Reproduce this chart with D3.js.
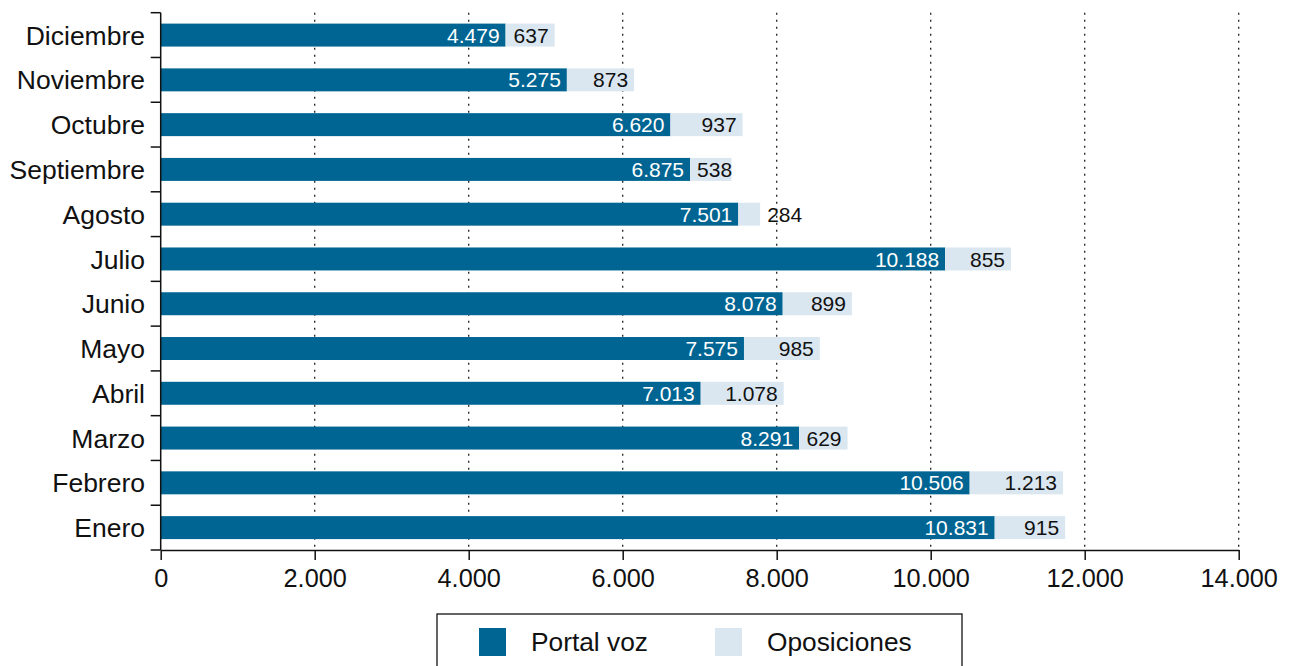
<!DOCTYPE html>
<html><head><meta charset="utf-8">
<script src="https://cdn.jsdelivr.net/npm/d3@7"></script>
<style>
html,body{margin:0;padding:0;background:#fff;}
svg{display:block;font-family:"Liberation Sans",Arial,Helvetica,sans-serif;}
</style></head>
<body>
<svg id="chart" width="1291" height="666"></svg>
<script>
const months = ["Enero","Febrero","Marzo","Abril","Mayo","Junio","Julio","Agosto","Septiembre","Octubre","Noviembre","Diciembre"];
const portalVoz = [10831,10506,8291,7013,7575,8078,10188,7501,6875,6620,5275,4479];
const oposiciones = [915,1213,629,1078,985,899,855,284,538,937,873,637];
const xTicks = [0,2000,4000,6000,8000,10000,12000,14000];
const seriesNames = ["Portal voz","Oposiciones"];
const colors = ["#006592","#dbe7f0"];

(function(){
const loc = d3.formatLocale({decimal:",", thousands:".", grouping:[3], currency:["","€"]});
const fmt = loc.format(",d");

const svg = d3.select("#chart");
const pLeft = 160.7, pRight = 1238.7, pTop = 12.7, pBottom = 550;

const x = d3.scaleLinear().domain([0,14000]).range([pLeft,pRight]);
const yOrder = months.slice().reverse(); // Diciembre at top
const y = d3.scaleBand().domain(yOrder).range([pTop,pBottom]).paddingInner(0.487).paddingOuter(0.2435);
const yBound = d3.scaleBand().domain(yOrder).range([pTop,pBottom]);

// gridlines
svg.append("g").selectAll("line").data(xTicks.filter(d=>d>0)).join("line")
  .attr("x1",d=>x(d)).attr("x2",d=>x(d)).attr("y1",pTop).attr("y2",pBottom)
  .attr("stroke","#222").attr("stroke-width",1.3).attr("stroke-dasharray","2,5");

const data = months.map((m,i)=>({m, a:portalVoz[i], b:oposiciones[i]}));

// bars
const g = svg.append("g");
g.selectAll("rect.a").data(data).join("rect").attr("class","a")
  .attr("x",x(0)).attr("y",d=>y(d.m)).attr("width",d=>x(d.a)-x(0)).attr("height",y.bandwidth())
  .attr("fill",colors[0]);
g.selectAll("rect.b").data(data).join("rect").attr("class","b")
  .attr("x",d=>x(d.a)).attr("y",d=>y(d.m)).attr("width",d=>x(d.a+d.b)-x(d.a)).attr("height",y.bandwidth())
  .attr("fill",colors[1]);

// labels
g.selectAll("text.a").data(data).join("text").attr("class","a")
  .attr("x",d=>x(d.a)-6).attr("y",d=>y(d.m)+y.bandwidth()/2).attr("dy","0.36em")
  .attr("text-anchor","end").attr("font-size",21).attr("fill","#fff").text(d=>fmt(d.a));
g.selectAll("text.b").data(data).join("text").attr("class","b")
  .attr("y",d=>y(d.m)+y.bandwidth()/2).attr("dy","0.36em")
  .attr("font-size",21).attr("fill","#111").attr("text-anchor","start").text(d=>fmt(d.b))
  .each(function(d){
    const w = this.getComputedTextLength();
    const end = x(d.a+d.b), start = x(d.a);
    let lx = Math.max(end-6-w, start+7);
    if (lx + w > end + 2) lx = end + 7;
    d3.select(this).attr("x", lx);
  });

// y axis
const yb = yOrder.map(m=>yBound(m)).concat([pBottom]);
const ya = svg.append("g");
ya.append("line").attr("x1",pLeft).attr("x2",pLeft).attr("y1",pTop).attr("y2",pBottom).attr("stroke","#111").attr("stroke-width",1.5);
ya.selectAll("line.t").data(yb).join("line").attr("class","t")
  .attr("x1",pLeft-10).attr("x2",pLeft).attr("y1",d=>d).attr("y2",d=>d).attr("stroke","#111").attr("stroke-width",1.5);
ya.selectAll("text").data(yOrder).join("text")
  .attr("x",145).attr("y",d=>y(d)+y.bandwidth()/2).attr("dy","0.36em")
  .attr("text-anchor","end").attr("font-size",26.5).attr("fill","#111").text(d=>d);

// x axis
const xa = svg.append("g").attr("transform",`translate(0,${pBottom})`);
xa.call(d3.axisBottom(x).tickValues(xTicks).tickFormat(fmt).tickSize(10).tickPadding(9).tickSizeOuter(0));
xa.select(".domain").attr("stroke","#111").attr("stroke-width",1.5);
xa.selectAll(".tick line").attr("stroke","#111").attr("stroke-width",1.5);
xa.selectAll(".tick text").attr("font-size",25.3).attr("fill","#111").attr("font-family","'Liberation Sans',Arial,Helvetica,sans-serif");

// legend
const lg = svg.append("g");
lg.append("rect").attr("x",437).attr("y",614).attr("width",525).attr("height",80)
  .attr("fill","#fff").attr("stroke","#111").attr("stroke-width",1.3);
const lx = [479,715];
seriesNames.forEach((s,i)=>{
  lg.append("rect").attr("x",lx[i]).attr("y",628).attr("width",27).attr("height",28).attr("fill",colors[i]);
  lg.append("text").attr("x",lx[i]+52).attr("y",642).attr("dy","0.36em").attr("font-size",26.3).attr("fill","#111").text(s);
});
})();
</script>
</body></html>
